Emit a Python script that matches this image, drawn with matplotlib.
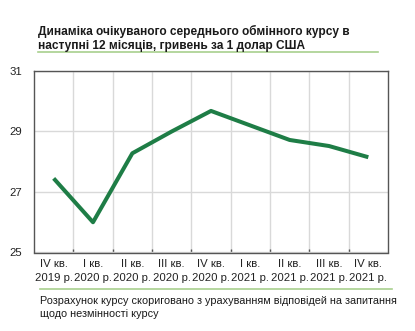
import numpy as np
import matplotlib.pyplot as plt
from matplotlib.lines import Line2D

plt.rcParams['font.family'] = ['Liberation Sans', 'DejaVu Sans']

# очікуваний курс, грн за 1 дол. США
quarters = ["IV кв.\n2019 р.", "I кв.\n2020 р.", "II кв.\n2020 р.", "III кв.\n2020 р.",
            "IV кв.\n2020 р.", "I кв.\n2021 р.", "II кв.\n2021 р.", "III кв.\n2021 р.",
            "IV кв.\n2021 р."]
rate = [27.45, 26.0, 28.28, 29.0, 29.68, 29.2, 28.72, 28.52, 28.15]

title = "Динаміка очікуваного середнього обмінного курсу в\nнаступні 12 місяців, гривень за 1 долар США"
note = "Розрахунок курсу скориговано з урахуванням відповідей на запитання\nщодо незмінності курсу"

fig = plt.figure(figsize=(4.15, 3.31), dpi=100)
ax = fig.add_axes([34 / 415, 1 - 252.5 / 331, 354 / 415, 181.5 / 331])

x = np.arange(len(quarters))
ax.plot(x, rate, color="#1e7d46", lw=2.9, solid_capstyle="butt", zorder=3)

ax.set_xlim(-0.5, len(quarters) - 0.5)
ax.set_ylim(25, 31)
ax.set_yticks([25, 27, 29, 31])
ax.set_xticks(x)
ax.set_xticklabels(quarters, fontsize=8.2, color="#222222", linespacing=1.45)
ax.set_xticks(np.arange(0.5, len(quarters) - 0.5), minor=True)
ax.tick_params(axis="x", which="major", length=0, pad=5)
ax.tick_params(axis="x", which="minor", length=3, direction="in", color="#555555", width=1)
ax.tick_params(axis="y", length=0, labelsize=8.2, labelcolor="#222222", pad=8.5)

ax.grid(True, axis="y", color="#d9d9d9", lw=1)
ax.grid(True, axis="x", which="minor", color="#d9d9d9", lw=1)
ax.set_axisbelow(True)
for s in ax.spines.values():
    s.set_color("#555555")
    s.set_linewidth(1)

fig.text(38 / 415, 1 - 24.5 / 331, title, fontsize=8.6, fontweight="bold", va="top",
         ha="left", color="#1a1a1a", linespacing=1.25)
fig.add_artist(Line2D([38 / 415, 378 / 415], [1 - 52 / 331] * 2, color="#a8d08d", lw=1.2))
fig.add_artist(Line2D([40 / 415, 392 / 415], [1 - 289 / 331] * 2, color="#a8d08d", lw=1.2))
fig.text(40 / 415, 1 - 296.5 / 331, note, fontsize=7.85, va="top", ha="left",
         color="#1a1a1a", linespacing=1.35)

fig.savefig("out.png", dpi=100)
